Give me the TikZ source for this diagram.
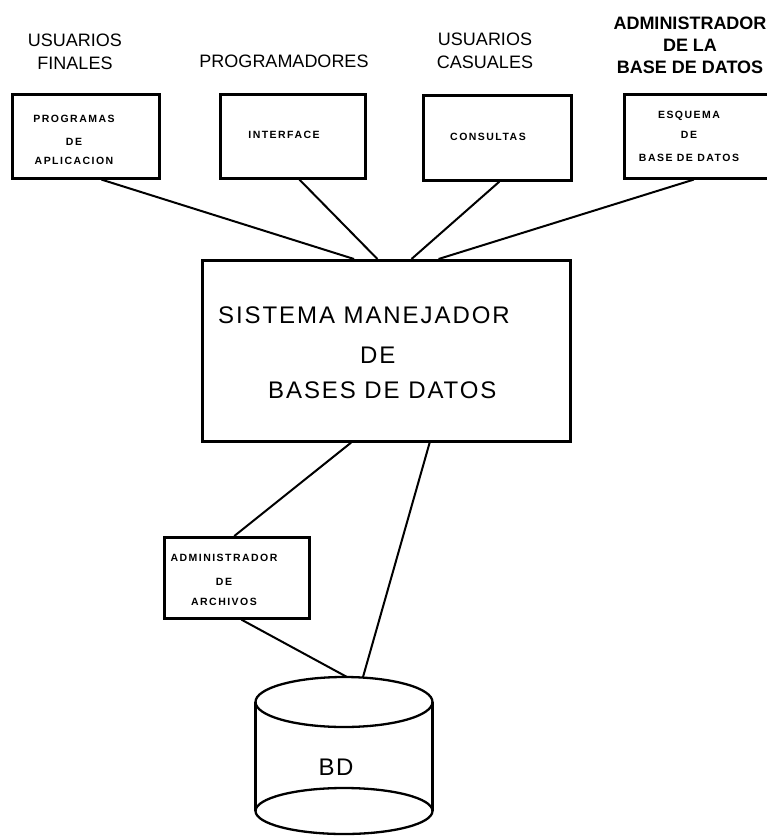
\documentclass[tikz,border=0pt]{standalone}
\usepackage{fontspec}
\setmainfont{Liberation Sans}
\usetikzlibrary{calc}
\begin{document}
\begin{tikzpicture}[x=1pt,y=-1pt,
  box/.style={draw, line width=2.6pt, inner sep=0pt, anchor=north west},
  conn/.style={line width=2pt},
  head/.style={font=\fontsize{18}{23}\selectfont, align=center, anchor=base, inner sep=0pt},
  headb/.style={font=\fontsize{18}{22}\selectfont\bfseries, align=center, anchor=base, inner sep=0pt},
  small/.style={font=\fontsize{10.5}{21}\selectfont\bfseries\addfontfeature{LetterSpace=14}, align=center, anchor=base, inner sep=0pt},
  big/.style={font=\fontsize{24}{38}\selectfont\addfontfeature{LetterSpace=8}, align=left, anchor=base west, inner sep=0pt}
]
\useasboundingbox (0,0) rectangle (766,838);

% header labels (base anchor = baseline of last line)
\node[head] (h1) at (75,69.5) {USUARIOS\\FINALES};
\node[head] (h2) at (284,67.5) {PROGRAMADORES};
\node[head] (h3) at (485,68.5) {USUARIOS\\CASUALES};
\node[headb] (h4) at (690,73.5) {ADMINISTRADOR\\DE LA\\BASE DE DATOS};

% top boxes
\node[box, minimum width=147pt, minimum height=84pt] (b1) at (11,93) {};
\node[box, minimum width=145pt, minimum height=84pt] (b2) at (219,93) {};
\node[box, minimum width=148pt, minimum height=85pt] (b3) at (422,94) {};
\node[box, minimum width=146pt, minimum height=84pt] (b4) at (623,93) {};

\node[small] (t1) at (74,164.8) {PROGRAMAS\\[2pt]DE\\[-2pt]APLICACION};
\node[small] (t2) at (284,138.8) {INTERFACE};
\node[small] (t3) at (488,140.8) {CONSULTAS};
\node[small] (t4) at (689,161.8) {ESQUEMA\\[-1pt]DE\\[2pt]BASE DE DATOS};

% main box
\node[box, minimum width=368pt, minimum height=181pt] (m) at (201,259) {};
\node[big] (mt) at (218,398.6) {SISTEMA MANEJADOR\\[2pt]\hspace*{142pt}DE\\[-3pt]\hspace*{50pt}BASES DE DATOS};

% file manager box
\node[box, minimum width=145pt, minimum height=81pt] (b5) at (163,536) {};
\node[small] (t5) at (224,605.8) {ADMINISTRADOR\\[3pt]DE\\[-1pt]ARCHIVOS};

% database cylinder
\coordinate (cA) at (363,677);
\coordinate (cB) at (347,677);
\draw[line width=2.3pt] (344,702) ellipse [x radius=88.5, y radius=25];
\draw[line width=2.3pt] (344,811) ellipse [x radius=88.5, y radius=23];
\draw[line width=2.3pt] (255.5,702) -- (255.5,811);
\draw[line width=2.3pt] (432.5,702) -- (432.5,811);
\node[font=\fontsize{24}{28}\selectfont\addfontfeature{LetterSpace=6.5}, anchor=base, inner sep=0pt] (bd) at (336,775.6) {BD};

% connectors
\draw[conn] ($(b1.south west)!0.605!(b1.south east)$) -- ($(m.north west)!0.413!(m.north east)$);
\draw[conn] ($(b2.south west)!0.545!(b2.south east)$) -- ($(m.north west)!0.476!(m.north east)$);
\draw[conn] ($(b3.south west)!0.514!(b3.south east)$) -- ($(m.north west)!0.568!(m.north east)$);
\draw[conn] ($(b4.south west)!0.476!(b4.south east)$) -- ($(m.north west)!0.641!(m.north east)$);
\draw[conn] ($(m.south west)!0.405!(m.south east)$) -- ($(b5.north west)!0.483!(b5.north east)$);
\draw[conn] ($(m.south west)!0.617!(m.south east)$) -- (cA);
\draw[conn] ($(b5.south west)!0.531!(b5.south east)$) -- (cB);
\end{tikzpicture}
\end{document}
